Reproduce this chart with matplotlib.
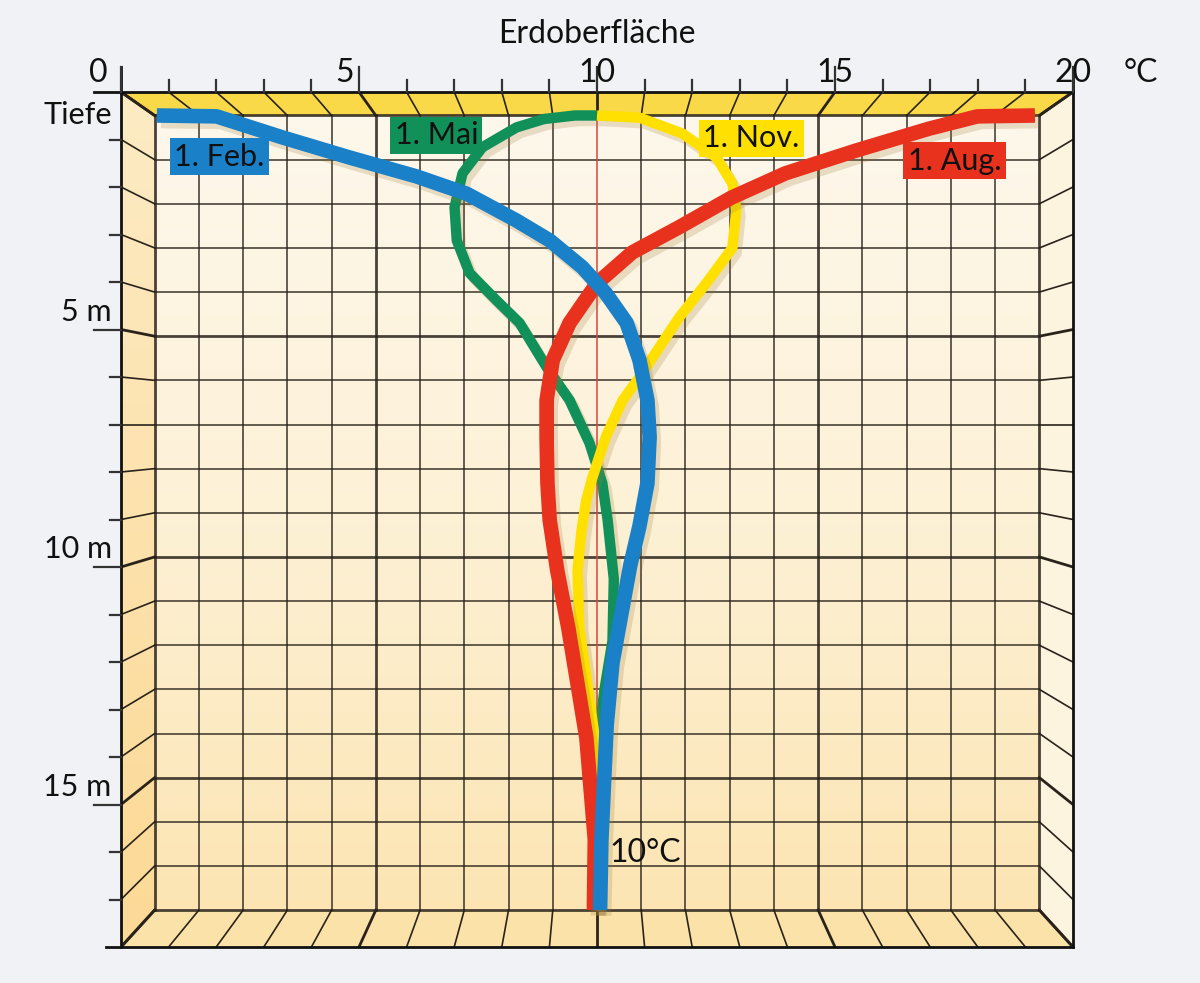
import numpy as np
import matplotlib.pyplot as plt
import matplotlib.patheffects as pe
from matplotlib.patches import Polygon
from matplotlib.colors import LinearSegmentedColormap

plt.rcParams['font.family'] = ['Lato', 'DejaVu Sans']

# Temperaturprofile im Boden (Temperatur in °C, Tiefe in m)
temp_feb = [0.05, 1.4, 2.9, 4.4, 5.92, 7.05, 8.18, 8.93, 9.67, 10.2, 10.67, 10.96, 11.14, 11.19, 11.14, 10.96, 10.75, 10.55, 10.35, 10.22, 10.1, 10.07]
tiefe_feb = [0.0, 0.02, 0.5, 0.95, 1.38, 1.77, 2.38, 2.83, 3.44, 4.03, 4.7, 5.54, 6.45, 7.28, 8.33, 9.3, 10.2, 11.3, 12.4, 13.8, 16.4, 18.0]

temp_mai = [10.0, 9.5, 8.8, 8.18, 7.41, 6.96, 6.78, 6.83, 7.12, 7.73, 8.25, 8.86, 9.38, 9.83, 10.12, 10.24, 10.38, 10.35, 10.17, 10.02, 10.0]
tiefe_mai = [0.0, 0.0, 0.08, 0.27, 0.72, 1.31, 2.08, 2.83, 3.57, 4.19, 4.7, 5.7, 6.45, 7.42, 8.33, 9.16, 10.5, 11.9, 13.0, 14.2, 18.0]

temp_nov = [10.0, 10.96, 11.93, 12.7, 13.06, 13.15, 13.06, 12.47, 11.86, 11.41, 10.96, 10.58, 10.2, 9.9, 9.76, 9.65, 9.56, 9.6, 9.8, 9.95, 10.0, 10.0]
tiefe_nov = [0.0, 0.05, 0.41, 0.95, 1.54, 2.15, 3.0, 3.8, 4.57, 5.25, 5.93, 6.45, 7.28, 8.19, 8.7, 9.4, 10.3, 11.6, 13.0, 14.1, 14.6, 18.0]

temp_aug = [19.9, 18.6, 17.5, 15.87, 14.26, 13.04, 11.84, 10.8, 10.0, 9.38, 9.0, 8.86, 8.86, 8.88, 8.93, 9.1, 9.35, 9.76, 9.95, 9.93]
tiefe_aug = [0.0, 0.02, 0.3, 0.79, 1.31, 1.86, 2.54, 3.1, 3.8, 4.7, 5.54, 6.45, 7.28, 8.33, 9.16, 10.3, 11.6, 14.1, 16.4, 18.0]

x_ticks = [0, 5, 10, 15, 20]
tiefe_ticks = [5, 10, 15]
tiefe_labels = ['5 m', '10 m', '15 m']

T_MAX = 20
D_MAX = 18

# Perspektive: Vorderkante des Kastens
K = 1.076
CX, CY = 10, 7


def vorne(x, y):
    return CX + K * (x - CX), CY + K * (y - CY)


fig = plt.figure(figsize=(12, 9.83), dpi=100)
fig.patch.set_facecolor('#f1f2f6')
ax = fig.add_axes([121 / 1200, 36 / 983, 952 / 1200, 855 / 983])
ax.set_axis_off()

x0f, y0f = vorne(0, 0)
x1f, y1f = vorne(T_MAX, D_MAX)

# Rückwand mit Farbverlauf
cm_wand = LinearSegmentedColormap.from_list('wand', ['#fdf8ec', '#fdf1d6', '#fce5b3'])
grad = np.linspace(0, 1, 256).reshape(-1, 1)
ax.imshow(grad, extent=(0, T_MAX, D_MAX, 0), aspect='auto', cmap=cm_wand, zorder=0)

# Seitenwände
oben = Polygon([vorne(0, 0), vorne(T_MAX, 0), (T_MAX, 0), (0, 0)], closed=True,
               facecolor='#f9d948', edgecolor='none', zorder=1)
links = Polygon([vorne(0, 0), (0, 0), (0, D_MAX), vorne(0, D_MAX)], closed=True,
                facecolor='#fde2a6', edgecolor='none', zorder=1)
rechts = Polygon([(T_MAX, 0), vorne(T_MAX, 0), vorne(T_MAX, D_MAX), (T_MAX, D_MAX)], closed=True,
                 facecolor='#fdf4df', edgecolor='none', zorder=1)
unten = Polygon([(0, D_MAX), (T_MAX, D_MAX), vorne(T_MAX, D_MAX), vorne(0, D_MAX)], closed=True,
                facecolor='#fbe2a8', edgecolor='none', zorder=1)
for p in [oben, links, rechts, unten]:
    ax.add_patch(p)

cm_links = LinearSegmentedColormap.from_list('links', ['#fdebc4', '#fcd995'])
im = ax.imshow(grad, extent=(x0f, 0, y1f, y0f), aspect='auto', cmap=cm_links, zorder=1.1)
im.set_clip_path(links)

gitter = '#2a231b'
# Gitter der Rückwand und Verbindungslinien zu den Wänden
for i in range(T_MAX + 1):
    lw = 2.0 if i % 5 == 0 else 1.2
    if i != 10:
        ax.plot([i, i], [0, D_MAX], color=gitter, lw=lw, alpha=0.85, zorder=2)
    xa, ya = vorne(i, 0)
    ax.plot([i, xa], [0, ya], color=gitter, lw=lw, zorder=2)
    xb, yb = vorne(i, D_MAX)
    ax.plot([i, xb], [D_MAX, yb], color=gitter, lw=lw, zorder=2)
for j in range(D_MAX + 1):
    lw = 2.0 if j % 5 == 0 or j == D_MAX else 1.2
    ax.plot([0, T_MAX], [j, j], color=gitter, lw=lw, alpha=0.85, zorder=2)
    xa, ya = vorne(0, j)
    ax.plot([0, xa], [j, ya], color=gitter, lw=lw, zorder=2)
    xb, yb = vorne(T_MAX, j)
    ax.plot([T_MAX, xb], [j, yb], color=gitter, lw=lw, zorder=2)

# 10 °C Linie
ax.plot([10, 10], [0, D_MAX], color='#d9463c', lw=1.1, zorder=2.5)

# Vorderkante
ax.plot([x0f - 0.62, x1f], [y0f, y0f], color='#111111', lw=2, zorder=3, clip_on=False)
ax.plot([x0f - 0.35, x1f], [y1f, y1f], color='#111111', lw=2, zorder=3, clip_on=False)
ax.plot([x0f, x0f], [y0f - 0.57, y1f], color='#111111', lw=2, zorder=3, clip_on=False)
ax.plot([x1f, x1f], [y0f - 0.57, y1f], color='#111111', lw=2, zorder=3, clip_on=False)

# Achsenmarken oben
for t in range(T_MAX + 1):
    xt, _ = vorne(t, 0)
    lang = 0.57 if t % 5 == 0 else 0.27
    ax.plot([xt, xt], [y0f, y0f - lang], color='#333333', lw=1.6, zorder=3, clip_on=False)
for t in x_ticks:
    xt, _ = vorne(t, 0)
    if t == 0:
        ax.text(xt - 0.3, y0f - 0.1, str(t), ha='right', va='bottom', fontsize=23,
                color='#111111', clip_on=False)
    elif t == 5:
        ax.text(xt - 0.12, y0f - 0.1, str(t), ha='right', va='bottom', fontsize=23,
                color='#111111', clip_on=False)
    else:
        ax.text(xt, y0f - 0.1, str(t), ha='center', va='bottom', fontsize=23,
                color='#111111', clip_on=False)
ax.text(22.3, y0f - 0.1, '°C', ha='center', va='bottom', fontsize=23, color='#111111',
        clip_on=False)
ax.text(10, -1.85, 'Erdoberfläche', ha='center', va='center', fontsize=23, color='#111111',
        clip_on=False)

# Achsenmarken links
for d in range(1, D_MAX):
    _, yd = vorne(0, d)
    lang = 0.61 if d % 5 == 0 else 0.25
    ax.plot([x0f - lang, x0f], [yd, yd], color='#333333', lw=1.6, zorder=3, clip_on=False)
ax.text(-0.97, -0.02, 'Tiefe', ha='right', va='center', fontsize=22, color='#111111',
        clip_on=False)
for d, lab in zip(tiefe_ticks, tiefe_labels):
    _, yd = vorne(0, d)
    ax.text(-0.97, yd - 0.08, lab, ha='right', va='bottom', fontsize=22, color='#111111',
            clip_on=False)

# Kurven
schatten = [pe.SimpleLineShadow(offset=(3, -4), shadow_color='#9a7a3a', alpha=0.22),
            pe.Normal()]
kurven = [
    (temp_mai, tiefe_mai, '#11905a', 7.5),
    (temp_nov, tiefe_nov, '#ffe000', 7.5),
    (temp_aug, tiefe_aug, '#e8321e', 10.5),
    (temp_feb, tiefe_feb, '#1a80c8', 10.5),
]
for z, (t, d, farbe, breite) in enumerate(kurven):
    ax.plot(t, d, color=farbe, lw=breite, solid_joinstyle='round', solid_capstyle='butt',
            path_effects=schatten, zorder=4 + z * 0.1)

# Beschriftungen der Kurven
etiketten = [
    ('1. Feb.', 1.47, 0.93, '#1a80c8'),
    ('1. Mai', 6.37, 0.45, '#11905a'),
    ('1. Nov.', 13.49, 0.52, '#ffe000'),
    ('1. Aug.', 18.08, 1.02, '#e8321e'),
]
for text, xt, yt, farbe in etiketten:
    ax.text(xt, yt, text, ha='center', va='center', fontsize=22, color='#111111', zorder=6,
            bbox=dict(boxstyle='square,pad=0.14', facecolor=farbe, edgecolor='none'))

ax.text(10.28, 16.7, '10°C', ha='left', va='center', fontsize=23, color='#111111', zorder=6)

ax.set_xlim(x0f, x1f)
ax.set_ylim(y1f, y0f)

fig.savefig('out.png', dpi=100, facecolor=fig.get_facecolor())
